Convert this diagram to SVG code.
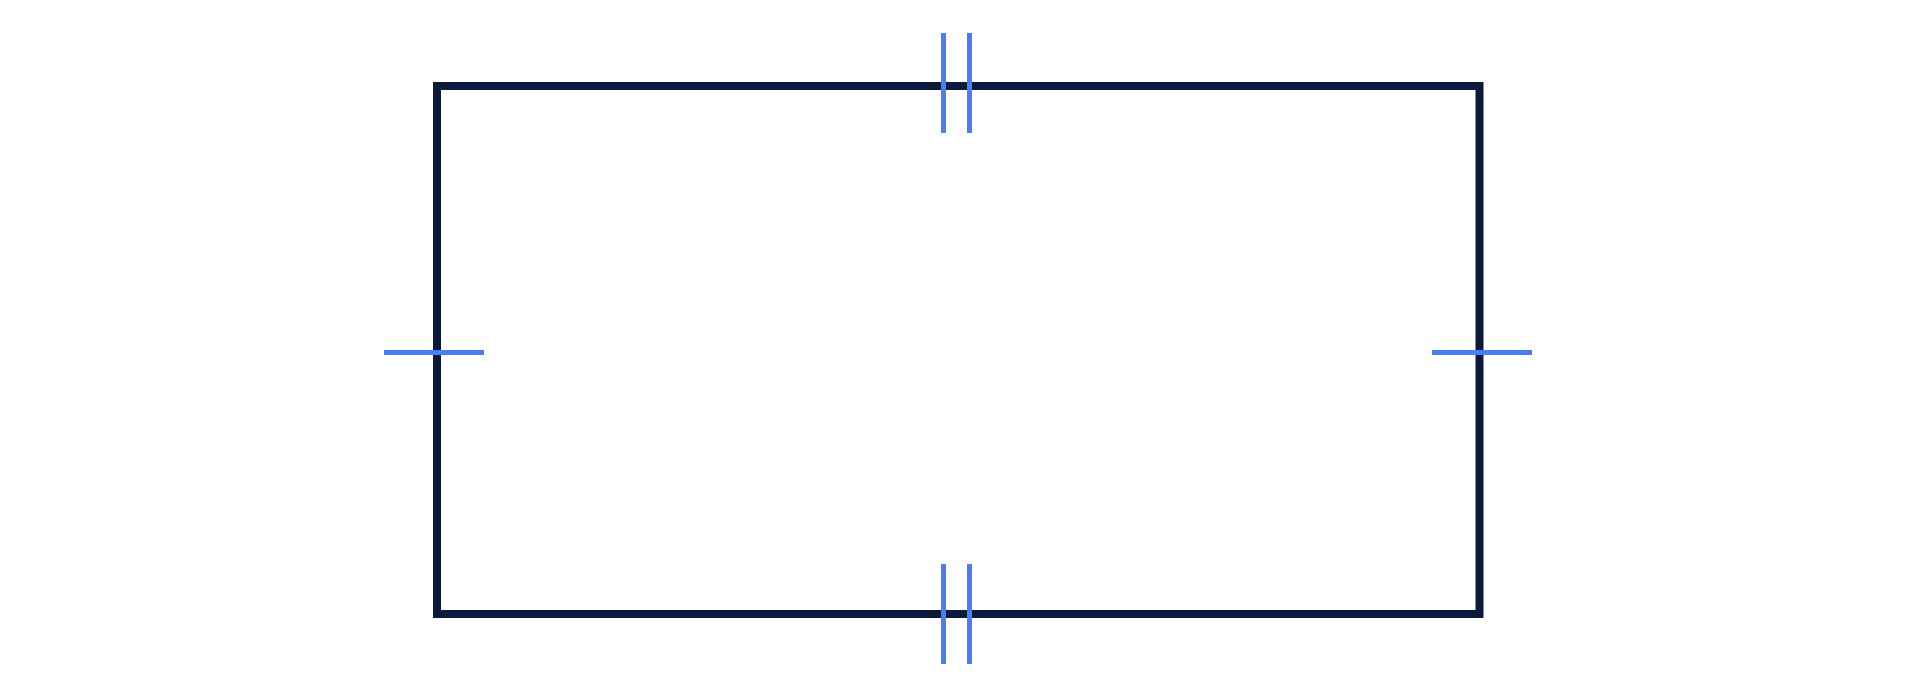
<svg xmlns="http://www.w3.org/2000/svg" width="1920" height="700" viewBox="0 0 1920 700">
<style>
.shape{fill:none;stroke:#0b1a3b;stroke-width:8}
.tick{stroke:#4a7cf6;stroke-width:5;fill:none}
</style>
<rect width="1920" height="700" fill="#ffffff"/>
<g id="rectangle">
<rect class="shape" x="437" y="86" width="1042.5" height="528"/>
</g>
<g id="ticks">
<line class="tick" x1="943.5" y1="33" x2="943.5" y2="133"/>
<line class="tick" x1="969.5" y1="33" x2="969.5" y2="133"/>
<line class="tick" x1="943.5" y1="564" x2="943.5" y2="664"/>
<line class="tick" x1="969.5" y1="564" x2="969.5" y2="664"/>
<line class="tick" x1="384" y1="352.5" x2="484" y2="352.5"/>
<line class="tick" x1="1432" y1="352.5" x2="1532" y2="352.5"/>
</g>
</svg>
